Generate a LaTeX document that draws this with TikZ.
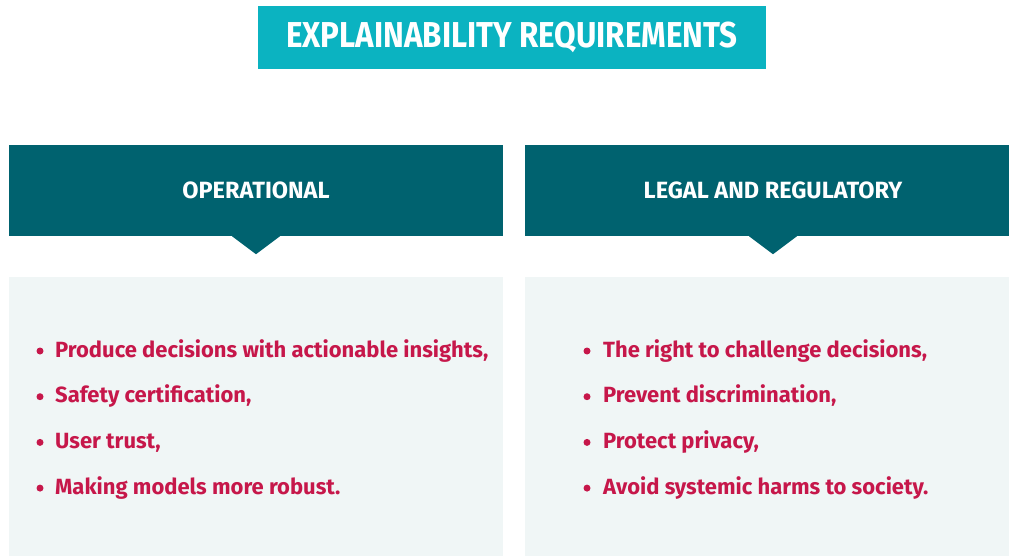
\documentclass[tikz,border=0pt]{standalone}
\usepackage{fontspec}
\setmainfont{Fira Sans}
\newfontfamily\titlefont[FakeStretch=0.87]{Fira Sans}
\definecolor{titlecyan}{HTML}{0BB3C1}
\definecolor{headteal}{HTML}{00626F}
\definecolor{panelgrey}{HTML}{F0F6F6}
\definecolor{itemred}{HTML}{C6174A}
\begin{document}
\begin{tikzpicture}[
  x=1pt, y=-1pt,
  title/.style={fill=titlecyan, text=white, inner sep=0pt,
    font=\titlefont\bfseries\fontsize{36}{40}\selectfont,
    minimum width=508pt, minimum height=63pt},
  header/.style={fill=headteal, text=white, inner sep=0pt,
    font=\bfseries\fontsize{23.5}{26}\selectfont, minimum height=91pt},
  panel/.style={fill=panelgrey, inner sep=0pt, anchor=north, minimum height=279pt},
  item/.style={text=itemred, anchor=base west, inner sep=0pt,
    font=\bfseries\fontsize{22}{26}\selectfont}
  ]
  \useasboundingbox (0,0) rectangle (1009,556);

  \node[title] (title) at (512,37.5) {EXPLAINABILITY REQUIREMENTS};

  \node[header, minimum width=494pt] (oper) at (256,190.5) {OPERATIONAL};
  \node[header, minimum width=496pt] (legal) at (773,190.5) {LEGAL AND REGULATORY};
  \foreach \h in {oper,legal} {
    \fill[headteal] ([xshift=-24pt]\h.south) -- ([yshift=-18pt]\h.south)
      -- ([xshift=24pt]\h.south) -- cycle;
  }

  \node[panel, minimum width=494pt] (operpanel) at (256,277) {};
  \node[panel, minimum width=496pt] (legalpanel) at (773,277) {};

  \foreach \txt [count=\i] in {{Produce decisions with actionable insights,},
      {Safety certification,}, {User trust,}, {Making models more robust.}} {
    \node[item] (oper-\i) at (55,311.3+45.7*\i) {\txt};
    \fill[itemred] ([xshift=-15pt,yshift=6pt]oper-\i.base west) circle (3.5);
  }
  \foreach \txt [count=\i] in {{The right to challenge decisions,},
      {Prevent discrimination,}, {Protect privacy,}, {Avoid systemic harms to society.}} {
    \node[item] (legal-\i) at (603,311.3+45.7*\i) {\txt};
    \fill[itemred] ([xshift=-16pt,yshift=6pt]legal-\i.base west) circle (3.5);
  }
\end{tikzpicture}
\end{document}
